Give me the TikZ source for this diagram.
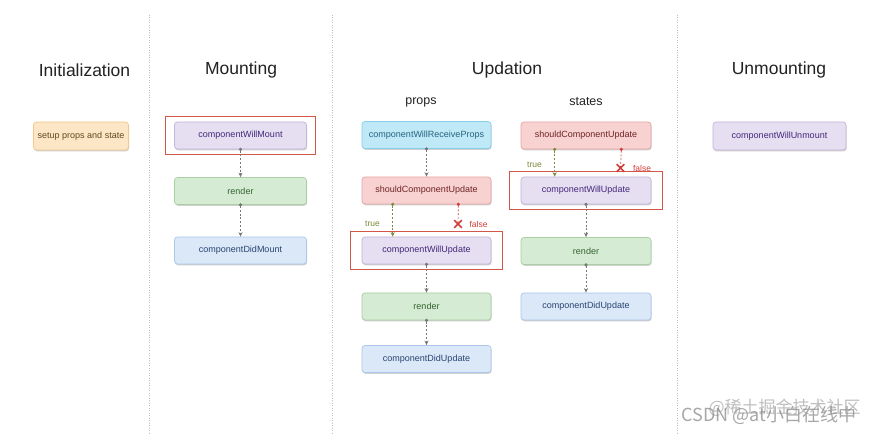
\documentclass[tikz,border=0pt]{standalone}
\usepackage{fontspec}
\setmainfont{Liberation Sans}
\setsansfont{Liberation Sans}
\newfontfamily\cjk{Noto Sans CJK SC}
\usetikzlibrary{arrows.meta,fit,shadows}
\definecolor{bgc}{HTML}{FFFFFF}
\definecolor{sepc}{HTML}{B9C6B6}
\definecolor{headc}{HTML}{222222}
\definecolor{orF}{HTML}{FDE6C6}\definecolor{orD}{HTML}{F0C98E}\definecolor{orT}{HTML}{5E4A1E}
\definecolor{puF}{HTML}{E6DEF1}\definecolor{puD}{HTML}{C4B5DA}\definecolor{puT}{HTML}{42287A}
\definecolor{grF}{HTML}{D6EBD3}\definecolor{grD}{HTML}{A8D0A3}\definecolor{grT}{HTML}{33632F}
\definecolor{blF}{HTML}{DAE8F8}\definecolor{blD}{HTML}{ABC7EA}\definecolor{blT}{HTML}{2A4472}
\definecolor{cyF}{HTML}{C0E9F7}\definecolor{cyD}{HTML}{86CFE9}\definecolor{cyT}{HTML}{256480}
\definecolor{rdF}{HTML}{F8D1D1}\definecolor{rdD}{HTML}{E8A4A4}\definecolor{rdT}{HTML}{6E2424}
\definecolor{hlc}{HTML}{D2574A}
\definecolor{connc}{HTML}{777777}
\definecolor{truec}{HTML}{7A8A3A}
\definecolor{falsec}{HTML}{D0403A}
\definecolor{wmc}{HTML}{8A8A8A}
\begin{document}
\begin{tikzpicture}[x=1pt,y=-1pt,
  lbox/.style={rounded corners=3pt, line width=0.7pt, minimum height=27pt, inner sep=0pt,
    font=\sffamily\fontsize{9}{10}\selectfont,
    drop shadow={shadow xshift=0.6pt, shadow yshift=-1.3pt, opacity=0.3, fill=black!60}},
  orbox/.style={lbox, draw=orD, fill=orF, text=orT},
  pubox/.style={lbox, draw=puD, fill=puF, text=puT},
  grbox/.style={lbox, draw=grD, fill=grF, text=grT},
  blbox/.style={lbox, draw=blD, fill=blF, text=blT},
  cybox/.style={lbox, draw=cyD, fill=cyF, text=cyT},
  rdbox/.style={lbox, draw=rdD, fill=rdF, text=rdT},
  hl/.style={draw=hlc, line width=1.1pt, inner ysep=5pt, inner xsep=11pt},
  heading/.style={font=\sffamily\fontsize{17.5}{20}\selectfont, text=headc},
  subhead/.style={font=\sffamily\fontsize{12.5}{14}\selectfont, text=headc},
  sep/.style={draw=sepc, line width=0.9pt, dash pattern=on 1pt off 1.5pt},
  conn/.style={draw=connc, line width=0.7pt, dash pattern=on 2pt off 1.8pt,
    {Circle[length=3.2pt,fill=connc]}-{Stealth[length=4.5pt,width=4pt,fill=connc]}, shorten <=-1.6pt},
  trueconn/.style={conn, draw=truec, {Circle[length=3.2pt,fill=truec]}-{Stealth[length=4.5pt,width=4pt,fill=truec]}},
  falseconn/.style={draw=falsec, line width=0.7pt, dash pattern=on 2pt off 1.8pt,
    {Circle[length=3.2pt,fill=falsec]}-, shorten <=-1.6pt},
  xmark/.style={draw=falsec, line width=1.6pt},
  tlabel/.style={font=\sffamily\fontsize{8.5}{9}\selectfont, text=truec},
  flabel/.style={font=\sffamily\fontsize{8.5}{9}\selectfont, text=falsec},
]
\useasboundingbox (0,0) rectangle (881,435);
\fill[bgc] (0,0) rectangle (881,435);

% separators
\coordinate (s1t) at (149,15); \coordinate (s1b) at (149,435);
\coordinate (s2t) at (332,15); \coordinate (s2b) at (332,435);
\coordinate (s3t) at (677,15); \coordinate (s3b) at (677,435);
\draw[sep] (s1t) -- (s1b);
\draw[sep] (s2t) -- (s2b);
\draw[sep] (s3t) -- (s3b);

% headings
\node[heading] (hInit) at (84.5,70) {Initialization};
\node[heading] (hMount) at (241,70) {Mounting};
\node[heading] (hUpd) at (507,70) {Updation};
\node[heading] (hUnm) at (779,70) {Unmounting};
\node[subhead] (hProps) at (421,102) {props};
\node[subhead] (hStates) at (586,102) {states};

% Initialization
\node[orbox, minimum width=95pt, minimum height=28pt] (setup) at (81,136) {setup props and state};

% Mounting
\node[pubox, minimum width=132pt] (cwm) at (240.5,135.5) {componentWillMount};
\node[grbox, minimum width=132pt] (mrender) at (240.5,191) {render};
\node[blbox, minimum width=132pt] (cdm) at (240.5,250.5) {componentDidMount};
\node[hl, inner xsep=9pt, fit=(cwm)] (hlm) {};
\draw[conn] (cwm.south) -- (mrender.north);
\draw[conn] (mrender.south) -- (cdm.north);

% Updation - props
\node[cybox, minimum width=129pt] (cwrp) at (426.5,135) {componentWillReceiveProps};
\node[rdbox, minimum width=129pt] (scu1) at (426.5,190.5) {shouldComponentUpdate};
\node[pubox, minimum width=129pt] (cwu1) at (426.5,250.5) {componentWillUpdate};
\node[grbox, minimum width=129pt] (prender) at (426.5,306.5) {render};
\node[blbox, minimum width=129pt] (cdu1) at (426.5,359) {componentDidUpdate};
\node[hl, fit=(cwu1)] (hlp) {};
\draw[conn] (cwrp.south) -- (scu1.north);
\draw[trueconn] ([xshift=31pt]scu1.south west) -- ([xshift=31pt]cwu1.north west);
\coordinate (fx1) at (458,224);
\draw[falseconn] ([xshift=-33pt]scu1.south east) -- (fx1);
\draw[xmark] ([shift={(-3.8,-3.8)}]fx1) -- ([shift={(3.8,3.8)}]fx1);
\draw[xmark] ([shift={(-3.8,3.8)}]fx1) -- ([shift={(3.8,-3.8)}]fx1);
\node[tlabel] (t1) at (372.5,224) {true};
\node[flabel] (f1) at (478.5,224) {false};
\draw[conn] (cwu1.south) -- (prender.north);
\draw[conn] (prender.south) -- (cdu1.north);

% Updation - states
\node[rdbox, minimum width=130pt] (scu2) at (586,135.5) {shouldComponentUpdate};
\node[pubox, minimum width=130pt] (cwu2) at (586,190.5) {componentWillUpdate};
\node[grbox, minimum width=130pt] (srender) at (586,251) {render};
\node[blbox, minimum width=130pt] (cdu2) at (586,306.5) {componentDidUpdate};
\node[hl, fit=(cwu2)] (hls) {};
\draw[trueconn] ([xshift=34pt]scu2.south west) -- ([xshift=34pt]cwu2.north west);
\coordinate (fx2) at (620.5,168);
\draw[falseconn] ([xshift=-30pt]scu2.south east) -- (fx2);
\draw[xmark] ([shift={(-3.8,-3.8)}]fx2) -- ([shift={(3.8,3.8)}]fx2);
\draw[xmark] ([shift={(-3.8,3.8)}]fx2) -- ([shift={(3.8,-3.8)}]fx2);
\node[tlabel] (t2) at (534.5,165) {true};
\node[flabel] (f2) at (642,168) {false};
\draw[conn] (cwu2.south) -- (srender.north);
\draw[conn] (srender.south) -- (cdu2.north);

% Unmounting
\node[pubox, minimum width=133pt, minimum height=28pt] (cwum) at (779.5,136) {componentWillUnmount};

% watermarks
\node[font=\cjk\fontsize{17}{19}\selectfont, text=wmc, opacity=0.55, anchor=west] (wm1) at (705,408) {@稀土掘金技术社区};
\node[font=\cjk\fontsize{18}{20}\selectfont, text=wmc, opacity=0.75, anchor=west] (wm2) at (678,415.5) {CSDN @at小白在线中};
\end{tikzpicture}
\end{document}
